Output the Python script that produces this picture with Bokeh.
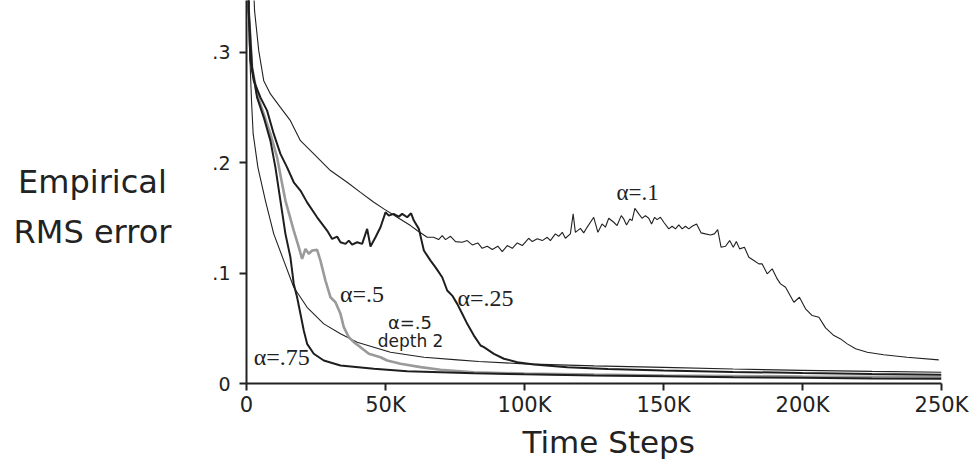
from bokeh.plotting import figure
from bokeh.models import Range1d, FixedTicker, Label, Title
from bokeh.embed import file_html
from bokeh.resources import INLINE

# ---- data (x in thousands of time steps) ----
a10_x = [1.5, 2.9, 4.4, 6.2, 8.6, 12.2, 15.8, 19.4, 24.2, 30.2, 36.2, 41.0, 45.8, 49.4, 54.2,
         59.0, 61.4, 65.0, 67.3, 69.1, 70.4, 71.6, 73.4, 75.2, 77.6, 79.4, 81.2, 83.2, 84.8, 86.6,
         88.4, 90.4, 92.0, 93.8, 95.6, 97.4, 99.2, 101.5, 102.8, 104.6, 106.4, 108.2, 109.3, 111.1, 112.3,
         113.6, 114.7, 116.5, 117.5, 118.3, 120.1, 121.3, 122.5, 124.9, 126.4, 127.9, 129.1, 130.3, 132.1, 133.3,
         134.8, 135.7, 136.7, 137.9, 138.7, 139.7, 141.1, 142.3, 143.5, 144.7, 145.7, 146.8, 147.7, 148.9, 150.1,
         151.9, 153.1, 154.3, 155.5, 156.7, 157.9, 159.1, 160.3, 161.9, 163.5, 165.1, 166.9, 168.3, 169.5, 170.7,
         172.3, 173.8, 175.1, 176.2, 177.4, 179.1, 180.7, 182.5, 184.3, 185.5, 187.3, 189.1, 190.9, 192.1, 193.9,
         196.9, 198.9, 201.1, 203.5, 205.9, 208.3, 211.3, 213.7, 216.1, 219.1, 223.3, 229.2, 237.6, 249.0]
a10_y = [0.42, 0.3376, 0.3014, 0.2742, 0.2622, 0.2500, 0.2380, 0.2199, 0.2079, 0.1928, 0.1822, 0.1731, 0.1641, 0.1581, 0.1505,
         0.1430, 0.1385, 0.1324, 0.1324, 0.1303, 0.1339, 0.1303, 0.1333, 0.1285, 0.1279, 0.1294, 0.1255, 0.1273, 0.1224, 0.1243,
         0.1213, 0.1243, 0.1195, 0.1249, 0.1224, 0.1273, 0.1249, 0.1315, 0.1285, 0.1310, 0.1294, 0.1324, 0.1294, 0.1355, 0.1333,
         0.1369, 0.1315, 0.1355, 0.1536, 0.1369, 0.1405, 0.1364, 0.1414, 0.1505, 0.1369, 0.1445, 0.1415, 0.1496, 0.1460, 0.1430,
         0.1520, 0.1490, 0.1436, 0.1490, 0.1475, 0.1586, 0.1536, 0.1496, 0.1520, 0.1496, 0.1445, 0.1505, 0.1484, 0.1505, 0.1460,
         0.1400, 0.1424, 0.1400, 0.1436, 0.1400, 0.1424, 0.1400, 0.1424, 0.1445, 0.1364, 0.1355, 0.1345, 0.1355, 0.1394, 0.1234,
         0.1243, 0.1294, 0.1234, 0.1285, 0.1219, 0.1234, 0.1143, 0.1113, 0.1083, 0.1083, 0.0993, 0.1038, 0.0947, 0.0902, 0.0871,
         0.0736, 0.0781, 0.0676, 0.0615, 0.0600, 0.0504, 0.0434, 0.0404, 0.0359, 0.0314, 0.0283, 0.0260, 0.0238, 0.0214]

a25_x = [0.3, 0.8, 1.4, 2.6, 5.0, 7.4, 9.8, 12.2, 14.6, 17.0, 19.4, 21.8, 25.4, 29.0, 30.8,
         32.6, 33.8, 35.6, 36.8, 38.0, 39.8, 41.6, 43.4, 44.6, 46.4, 48.2, 50.0, 51.2, 52.9, 54.8,
         56.0, 57.8, 59.2, 60.2, 62.0, 63.8, 66.2, 68.0, 70.4, 72.2, 74.0, 75.8, 77.6, 79.4, 81.8,
         84.2, 85.4, 89.0, 92.6, 97.4, 103.4, 115.4, 130.0, 150.0, 175.0, 200.0, 225.0, 250.0]
a25_y = [0.45, 0.3376, 0.2923, 0.2742, 0.2591, 0.2471, 0.2260, 0.2079, 0.1957, 0.1822, 0.1747, 0.1640, 0.1505, 0.1385, 0.1309,
         0.1330, 0.1279, 0.1264, 0.1294, 0.1258, 0.1279, 0.1264, 0.1400, 0.1240, 0.1324, 0.1415, 0.1550, 0.1520, 0.1536, 0.1511,
         0.1536, 0.1505, 0.1541, 0.1475, 0.1400, 0.1204, 0.1113, 0.1052, 0.0962, 0.0842, 0.0796, 0.0721, 0.0631, 0.0540, 0.0434,
         0.0344, 0.0329, 0.0269, 0.0224, 0.0193, 0.0172, 0.0148, 0.0132, 0.0118, 0.0105, 0.0095, 0.0087, 0.0080]

a50_x = [0.3, 0.8, 2.0, 3.8, 6.2, 8.6, 11.0, 12.5, 14.0, 15.5, 17.0, 18.8, 20.0, 21.2, 22.4,
         23.6, 25.4, 26.6, 28.4, 30.2, 32.0, 33.8, 35.0, 36.8, 38.6, 41.0, 44.0, 48.2, 50.6, 55.4,
         62.6, 69.8, 81.8, 100.0, 125.0, 150.0, 175.0, 200.0, 225.0, 250.0]
a50_y = [0.45, 0.3376, 0.2862, 0.2622, 0.2441, 0.2260, 0.2048, 0.1850, 0.1656, 0.1520, 0.1385, 0.1234, 0.1128, 0.1219, 0.1174,
         0.1204, 0.1210, 0.1113, 0.0932, 0.0781, 0.0736, 0.0631, 0.0510, 0.0419, 0.0374, 0.0329, 0.0269, 0.0238, 0.0208, 0.0178,
         0.0148, 0.0124, 0.0102, 0.0090, 0.0080, 0.0073, 0.0068, 0.0064, 0.0061, 0.0058]

a75_x = [0.3, 0.8, 2.0, 3.8, 6.2, 8.6, 10.4, 12.2, 14.0, 15.8, 17.0, 18.2, 19.4, 20.6, 21.8,
         24.2, 27.8, 33.8, 45.8, 57.8, 81.8, 100.0, 125.0, 150.0, 175.0, 200.0, 225.0, 250.0]
a75_y = [0.45, 0.3376, 0.2862, 0.2591, 0.2410, 0.2199, 0.1957, 0.1656, 0.1355, 0.1143, 0.0902, 0.0781, 0.0631, 0.0480, 0.0359,
         0.0269, 0.0208, 0.0163, 0.0133, 0.0111, 0.0093, 0.0083, 0.0073, 0.0065, 0.0057, 0.0051, 0.0046, 0.0042]

d2_x = [0.3, 1.0, 1.8, 2.4, 4.1, 6.8, 9.8, 13.4, 17.0, 21.8, 27.8, 33.8, 39.8, 45.8, 51.8,
        63.8, 75.8, 83.6, 100.0, 125.0, 150.0, 175.0, 200.0, 225.0, 250.0]
d2_y = [0.45, 0.31, 0.256, 0.226, 0.1957, 0.1656, 0.1355, 0.1113, 0.0871, 0.0690, 0.0540, 0.0450, 0.0374, 0.0329, 0.0283,
        0.0238, 0.0214, 0.0199, 0.0178, 0.0160, 0.0146, 0.0131, 0.0119, 0.0110, 0.0102]

x_ticks = [0, 50, 100, 150, 200, 250]
x_tick_labels = ["0", "50K", "100K", "150K", "200K", "250K"]
y_ticks = [0, 0.1, 0.2, 0.3]
y_tick_labels = ["0", ".1", ".2", ".3"]
x_title = "Time Steps"
y_title = "Empirical\nRMS error"

SANS = "DejaVu Sans"
SERIF = "Liberation Serif"

p = figure(width=972, height=462, output_backend="svg", toolbar_location=None,
           x_range=Range1d(0, 250), y_range=Range1d(0, 0.3468),
           min_border_left=246, min_border_right=31, min_border_top=0, min_border_bottom=79)
p.outline_line_color = None
p.grid.visible = False

for ax in (p.xaxis, p.yaxis):
    ax.axis_line_width = 2
    ax.axis_line_color = "#222222"
    ax.major_tick_line_width = 2
    ax.major_tick_line_color = "#222222"
    ax.major_tick_in = 0
    ax.major_tick_out = 7
    ax.minor_tick_line_color = None
    ax.major_label_text_font = SANS
    ax.major_label_text_color = "#222222"

p.xaxis.ticker = FixedTicker(ticks=x_ticks)
p.xaxis.major_label_overrides = {t: l for t, l in zip(x_ticks, x_tick_labels)}
p.xaxis.major_label_standoff = 2
p.xaxis.axis_label_standoff = 0
p.xaxis.major_label_text_font_size = "21px"
p.yaxis.ticker = FixedTicker(ticks=y_ticks)
p.yaxis.major_label_overrides = {t: l for t, l in zip(y_ticks, y_tick_labels)}
p.yaxis.major_label_standoff = 9
p.yaxis.major_label_text_font_size = "19px"

p.add_layout(Title(text=x_title, align="left", offset=276, text_font=SANS,
                   text_font_size="31px", text_font_style="normal", text_color="#222222",
                   standoff=4), "below")

p.line(a10_x, a10_y, line_color="#222222", line_width=1.1)
p.line(d2_x, d2_y, line_color="#222222", line_width=1.1)
p.line(a50_x, a50_y, line_color="#9a9a9a", line_width=2.6)
p.line(a25_x, a25_y, line_color="#1e1e1e", line_width=2.0)
p.line(a75_x, a75_y, line_color="#1e1e1e", line_width=2.0)

def lab(x, y, text, font, size, align="left", baseline="middle", place="center", line_height=1.2):
    p.add_layout(Label(x=x, y=y, text=text, text_font=font, text_font_size=size,
                       text_align=align, text_baseline=baseline, text_color="#222222",
                       text_line_height=line_height), place)

lab(133.1, 0.1729, "α=.1", SERIF, "23px")
lab(75.9, 0.0778, "α=.25", SERIF, "24px")
lab(33.6, 0.0812, "α=.5", SERIF, "24px")
lab(58.8, 0.0555, "α=.5", SANS, "18px", align="center")
lab(59.0, 0.0389, "depth 2", SANS, "17px", align="center")
lab(2.6, 0.0244, "α=.75", SERIF, "24px")

lab(-55.4, 0.1599, y_title, SANS, "32px", align="center", baseline="middle", place="left", line_height=1.32)

open("out.html", "w").write(file_html(p, INLINE))
